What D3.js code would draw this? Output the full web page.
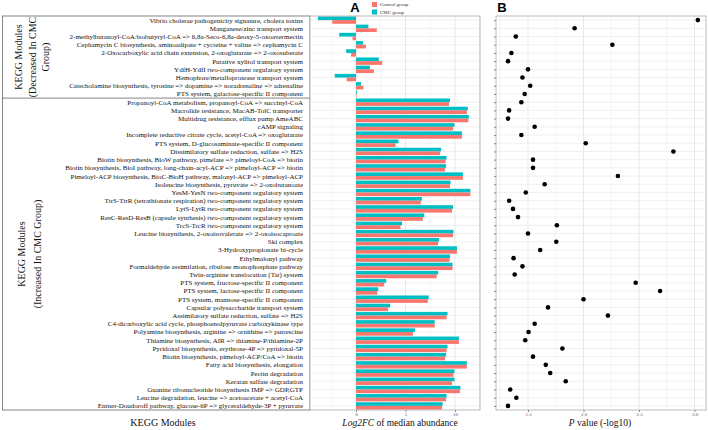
<!DOCTYPE html>
<html><head><meta charset="utf-8">
<script src="https://cdn.jsdelivr.net/npm/d3@7"></script>
<style>
html,body{margin:0;padding:0;background:#fff;}
svg{display:block;}
</style></head>
<body>
<svg id="chart" width="708" height="430"></svg>
<script>
const categories = [
 "Vibrio cholerae pathogenicity signature, cholera toxins",
 "Manganese/zinc transport system",
 "2-methylbutanoyl-CoA/isobutyryl-CoA => 6,8a-Seco-6,8a-deoxy-5-oxoavermectin",
 "Cephamycin C biosynthesis, aminoadipate + cycteine + valine => cephamycin C",
 "2-Oxocarboxylic acid chain extension, 2-oxoglutarate  => 2-oxosuberate",
 "Putative xylitol transport system",
 "YdfH-YdfI two-component regulatory system",
 "Hemophore/metalloprotease transport system",
 "Catecholamine biosynthesis, tyrosine => dopamine => noradrenaline => adrenaline",
 "PTS system, galactose-specific II component",
 "Propanoyl-CoA metabolism, propanoyl-CoA => succinyl-CoA",
 "Macrolide resistance, MacAB-TolC transporter",
 "Multidrug resistance, efflux pump AmeABC",
 "cAMP signaling",
 "Incomplete reductive citrate cycle, acetyl-CoA => oxoglutarate",
 "PTS system, D-glucosaminate-specific II component",
 "Dissimilatory sulfate reduction, sulfate => H2S",
 "Biotin biosynthesis, BioW pathway, pimelate => pimeloyl-CoA => biotin",
 "Biotin biosynthesis, BioI pathway, long-chain-acyl-ACP => pimeloyl-ACP => biotin",
 "Pimeloyl-ACP biosynthesis, BioC-BioH pathway, malonyl-ACP => pimeloyl-ACP",
 "Isoleucine biosynthesis, pyruvate => 2-oxobutanoate",
 "YesM-YesN two-component regulatory system",
 "TtrS-TtrR (tetrathionate respiration) two-component regulatory system",
 "LytS-LytR two-component regulatory system",
 "ResC-ResD-ResB (capsule synthesis) two-component regulatory system",
 "TrcS-TrcR two-component regulatory system",
 "Leucine biosynthesis, 2-oxoisovalerate => 2-oxoisocaproate",
 "Ski complex",
 "3-Hydroxypropionate bi-cycle",
 "Ethylmalonyl pathway",
 "Formaldehyde assimilation, ribulose monophosphate pathway",
 "Twin-arginine translocation (Tat) system",
 "PTS system, fructose-specific II component",
 "PTS system, lactose-specific II component",
 "PTS system, mannose-specific II component",
 "Capsular polysaccharide transport system",
 "Assimilatory sulfate reduction, sulfate => H2S",
 "C4-dicarboxylic acid cycle, phosphoenolpyruvate carboxykinase type",
 "Polyamine biosynthesis, arginine => ornithine => putrescine",
 "Thiamine biosynthesis, AIR => thiamine-P/thiamine-2P",
 "Pyridoxal biosynthesis, erythrose-4P => pyridoxal-5P",
 "Biotin biosynthesis, pimeloyl-ACP/CoA => biotin",
 "Fatty acid biosynthesis, elongation",
 "Pectin degradation",
 "Keratan sulfate degradation",
 "Guanine ribonucleotide biosynthesis IMP => GDP,GTP",
 "Leucine degradation, leucine => acetoacetate + acetyl-CoA",
 "Entner-Doudoroff pathway, glucose-6P => glyceraldehyde-3P + pyruvate"
];
const cmcValues = [
 -3.85, 1.25, -1.7, 0.7, -1.0, 2.3, 1.4, -2.15, 0.5, 0.08,
 9.5, 11.3, 11.4, 9.95, 10.7, 4.3, 8.6, 9.15, 9.1, 10.8,
 9.55, 11.55, 6.65, 9.8, 6.9, 4.65, 9.85, 8.4, 10.2, 9.5,
 9.75, 8.3, 3.05, 2.25, 7.35, 3.45, 9.25, 7.95, 5.95, 10.4,
 9.25, 9.1, 11.2, 9.95, 9.95, 10.55, 9.15, 8.75
];
const controlValues = [
 -2.4, 2.1, -0.35, 1.0, -0.5, 2.65, 1.8, -0.95, 0.75, 0.05,
 9.4, 11.2, 11.35, 9.8, 10.7, 4.0, 8.5, 9.05, 9.0, 10.8,
 9.5, 11.55, 6.55, 9.7, 6.75, 4.5, 9.8, 8.3, 10.2, 9.45,
 9.75, 8.15, 2.85, 2.15, 7.25, 3.25, 9.15, 7.95, 5.75, 10.4,
 9.15, 9.0, 11.2, 9.85, 9.7, 10.5, 9.1, 8.7
];
const pValues = [
 3.03, 1.92, 1.39, 2.26, 1.35, 1.32, 1.50, 1.45, 1.52, 1.47,
 1.44, 1.33, 1.32, 1.56, 1.44, 2.02, 2.81, 1.545, 1.545, 2.31,
 1.65, 1.48, 1.33, 1.365, 1.41, 1.76, 1.50, 1.755, 1.61, 1.37,
 1.45, 1.38, 2.47, 2.69, 2.00, 1.68, 2.22, 1.56, 1.505, 1.475,
 1.81, 1.545, 1.66, 1.70, 1.84, 1.34, 1.395, 1.32
];
const groupSizes = [10, 38];
const groupTitles = [
 ["KEGG Modules", "(Decreased In CMC", "Group)"],
 ["KEGG Modules", "(Increased In CMC Group)"]
];
const seriesNames = ["CMC group", "Control group"];
const seriesColors = {"CMC group": "#00BFC4", "Control group": "#F8766D"};
const legendOrder = ["Control group", "CMC group"];
const ticksA = [0, 5, 10];
const ticksB = [1.5, 2.0, 2.5, 3.0];
const tickLabelsB = ["1.5", "2.0", "2.5", "3.0"];

const svg = d3.select("#chart");
const topY = 16, bottomY = 410;
const serif = "'Liberation Serif','Times New Roman',serif";
const sans = "'Liberation Sans',Arial,sans-serif";

// ---------- row scales ----------
const yBand = d3.scaleBand().domain(categories).range([topY, bottomY]).paddingInner(0.1).paddingOuter(0.05);
const yPt = d3.scalePoint().domain(categories).range([topY, bottomY]).padding(0.5);
const ySub = d3.scaleBand().domain(seriesNames).range([0, yBand.bandwidth()]);

// ---------- label table ----------
const boxL = 2.5, boxR = 310;
const g0 = svg.append("g");
g0.append("rect").attr("x", boxL).attr("y", topY).attr("width", boxR - boxL).attr("height", bottomY - topY)
  .attr("fill", "none").attr("stroke", "#666").attr("stroke-width", 0.8);
const splitY = yPt(categories[groupSizes[0]]) - yPt.step() / 2;
g0.append("line").attr("x1", boxL).attr("x2", boxR).attr("y1", splitY).attr("y2", splitY)
  .attr("stroke", "#666").attr("stroke-width", 0.8);

g0.selectAll("text.lab").data(categories).join("text").attr("class", "lab")
  .attr("x", 303).attr("y", d => yPt(d)).attr("dy", "0.35em")
  .attr("text-anchor", "end").attr("font-family", serif).attr("font-size", 7).attr("fill", "#111")
  .text(d => d);

// group titles
const grpRanges = [[topY, splitY], [splitY, bottomY]];
const titleX = [[18, 32, 45], [21, 37]];
groupTitles.forEach((lines, gi) => {
  const cy = (grpRanges[gi][0] + grpRanges[gi][1]) / 2;
  lines.forEach((t, li) => {
    const x = titleX[gi][li];
    g0.append("text").attr("transform", `translate(${x},${cy}) rotate(-90)`)
      .attr("text-anchor", "middle").attr("dy", "0.35em")
      .attr("font-family", serif).attr("font-size", 10).attr("fill", "#111").text(t);
  });
});
g0.append("text").attr("x", 163).attr("y", 426).attr("text-anchor", "middle")
  .attr("font-family", serif).attr("font-size", 10).attr("fill", "#111").text("KEGG Modules");

// ---------- panel A ----------
const aL = 310, aR = 480;
const xA = d3.scaleLinear().domain([-4.65, 12.53]).range([aL, aR]);
const gA = svg.append("g");
gA.append("rect").attr("x", aL).attr("y", topY).attr("width", aR - aL).attr("height", bottomY - topY).attr("fill", "#fff");
[-2.5, 2.5, 7.5, 12.5].filter(v => xA(v) > aL && xA(v) < aR).forEach(v => {
  gA.append("line").attr("x1", xA(v)).attr("x2", xA(v)).attr("y1", topY).attr("y2", bottomY)
    .attr("stroke", "#f0f0f0").attr("stroke-width", 0.6);
});
ticksA.forEach(v => {
  gA.append("line").attr("x1", xA(v)).attr("x2", xA(v)).attr("y1", topY).attr("y2", bottomY)
    .attr("stroke", "#e6e6e6").attr("stroke-width", 0.9);
});
gA.selectAll("line.hg").data(categories).join("line").attr("class", "hg")
  .attr("x1", aL).attr("x2", aR).attr("y1", d => yPt(d)).attr("y2", d => yPt(d))
  .attr("stroke", "#e6e6e6").attr("stroke-width", 0.6);

const barData = [];
categories.forEach((c, i) => {
  barData.push({cat: c, s: "CMC group", v: cmcValues[i]});
  barData.push({cat: c, s: "Control group", v: controlValues[i]});
});
gA.selectAll("rect.bar").data(barData).join("rect").attr("class", "bar")
  .attr("x", d => xA(Math.min(0, d.v))).attr("width", d => Math.abs(xA(d.v) - xA(0)))
  .attr("y", d => yBand(d.cat) + ySub(d.s)).attr("height", ySub.bandwidth())
  .attr("fill", d => seriesColors[d.s]);
gA.append("rect").attr("x", aL).attr("y", topY).attr("width", aR - aL).attr("height", bottomY - topY)
  .attr("fill", "none").attr("stroke", "#aaa").attr("stroke-width", 0.8);
const axA = d3.axisBottom(xA).tickValues(ticksA).tickSize(2).tickFormat(d3.format("d"));
const axAg = gA.append("g").attr("transform", `translate(0,${bottomY})`).call(axA);
axAg.select(".domain").remove();
axAg.selectAll("line").attr("stroke", "#888");
axAg.selectAll("text").attr("font-family", serif).attr("font-size", 5).attr("fill", "#555")
  .attr("y", 2.5).attr("dy", "0.71em");
const tA = gA.append("text").attr("x", 400).attr("y", 426).attr("text-anchor", "middle")
  .attr("font-family", serif).attr("font-size", 9.5).attr("fill", "#111");
tA.append("tspan").attr("font-style", "italic").text("Log2FC");
tA.append("tspan").text(" of median abundance");
gA.append("text").attr("x", 355).attr("y", 12).attr("text-anchor", "middle")
  .attr("font-family", sans).attr("font-weight", "bold").attr("font-size", 13).text("A");
legendOrder.forEach((s, i) => {
  const ly = 2 + i * 7.5;
  gA.append("rect").attr("x", 372).attr("y", ly).attr("width", 5).attr("height", 5).attr("fill", seriesColors[s]);
  gA.append("text").attr("x", 380).attr("y", ly + 2.5).attr("dy", "0.35em")
    .attr("font-family", serif).attr("font-size", 5).attr("fill", "#333").text(s);
});

// ---------- panel B ----------
const bL = 496, bR = 706;
const xB = d3.scaleLinear().domain([1.2117, 3.1036]).range([bL, bR]);
const gB = svg.append("g");
[1.25, 1.75, 2.25, 2.75].forEach(v => {
  gB.append("line").attr("x1", xB(v)).attr("x2", xB(v)).attr("y1", topY).attr("y2", bottomY)
    .attr("stroke", "#f0f0f0").attr("stroke-width", 0.6);
});
ticksB.forEach(v => {
  gB.append("line").attr("x1", xB(v)).attr("x2", xB(v)).attr("y1", topY).attr("y2", bottomY)
    .attr("stroke", "#e6e6e6").attr("stroke-width", 0.9);
});
gB.selectAll("line.hg").data(categories).join("line").attr("class", "hg")
  .attr("x1", bL).attr("x2", bR).attr("y1", d => yPt(d)).attr("y2", d => yPt(d))
  .attr("stroke", "#e6e6e6").attr("stroke-width", 0.6);
gB.selectAll("circle").data(categories).join("circle")
  .attr("cx", (d, i) => xB(pValues[i])).attr("cy", d => yPt(d)).attr("r", 2.3).attr("fill", "#000");
gB.append("rect").attr("x", bL).attr("y", topY).attr("width", bR - bL).attr("height", bottomY - topY)
  .attr("fill", "none").attr("stroke", "#aaa").attr("stroke-width", 0.8);
const ayB = d3.axisLeft(yPt).tickSize(2).tickFormat("");
const ayBg = gB.append("g").attr("transform", `translate(${bL},0)`).call(ayB);
ayBg.select(".domain").remove();
ayBg.selectAll("line").attr("stroke", "#888");
const axB = d3.axisBottom(xB).tickValues(ticksB).tickSize(2).tickFormat((d, i) => tickLabelsB[i]);
const axBg = gB.append("g").attr("transform", `translate(0,${bottomY})`).call(axB);
axBg.select(".domain").remove();
axBg.selectAll("line").attr("stroke", "#888");
axBg.selectAll("text").attr("font-family", serif).attr("font-size", 5).attr("fill", "#555")
  .attr("y", 2.5).attr("dy", "0.71em");
const tB = gB.append("text").attr("x", 600).attr("y", 426).attr("text-anchor", "middle")
  .attr("font-family", serif).attr("font-size", 9.5).attr("fill", "#111");
tB.append("tspan").attr("font-style", "italic").text("P");
tB.append("tspan").text(" value (-log10)");
gB.append("text").attr("x", 502).attr("y", 12).attr("text-anchor", "middle")
  .attr("font-family", sans).attr("font-weight", "bold").attr("font-size", 13).text("B");
</script>
</body></html>
